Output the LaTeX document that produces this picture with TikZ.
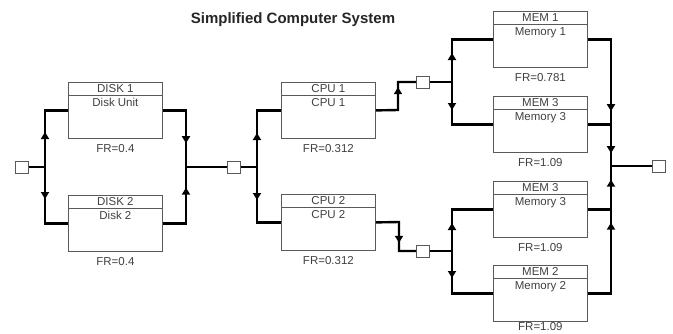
\documentclass[tikz,border=0pt]{standalone}
\usepackage{fontspec}
\setmainfont{Liberation Sans}
\usetikzlibrary{decorations.markings,arrows.meta}
\newcommand\compbox[7][11pt]{%
  \node[comp] (#2) at (#3,#4) {};
  \draw[frame] ([yshift=-13pt]#2.north west) -- ([yshift=-13pt]#2.north east);
  \node[lbl] (#2h) at ([yshift=-7pt]#2.north) {#5};
  \node[lbl] (#2b) at ([yshift=-21pt]#2.north) {#6};
  \node[lbl] (#2f) at ([yshift=-#1]#2.south) {#7};
}
\begin{document}
\begin{tikzpicture}[x=1pt,y=-1pt,
  frame/.style={draw=black!65, line width=0.8pt},
  comp/.style={frame, minimum width=94pt, minimum height=56pt, inner sep=0pt, anchor=north west},
  lbl/.style={font=\fontsize{11.5}{13}\selectfont, text=black!75, inner sep=0pt, text height=8pt, text depth=2pt},
  sq/.style={frame, fill=white, minimum width=13pt, minimum height=12pt, inner sep=0pt},
  bus/.style={line width=2.4pt, line join=miter},
  link/.style={line width=1.4pt},
  arr/.style={postaction={decorate,decoration={markings,mark=at position #1 with {\arrow{Triangle[length=7pt,width=8pt]}}}}}
]
\useasboundingbox (0,0) rectangle (673,333);

\node[font=\fontsize{15}{18}\selectfont\bfseries, text=black!85] (title) at (293,20) {Simplified Computer System};

% components
\compbox{d1}{68}{82}{DISK 1}{Disk Unit}{FR=0.4}
\compbox{d2}{68}{195}{DISK 2}{Disk 2}{FR=0.4}
\compbox{c1}{281}{82}{CPU 1}{CPU 1}{FR=0.312}
\compbox{c2}{281}{194}{CPU 2}{CPU 2}{FR=0.312}
\compbox{m1}{493}{11}{MEM 1}{Memory 1}{FR=0.781}
\compbox{m3a}{493}{96}{MEM 3}{Memory 3}{FR=1.09}
\compbox{m3b}{493}{181}{MEM 3}{Memory 3}{FR=1.09}
\compbox[5.5pt]{m2}{493}{265}{MEM 2}{Memory 2}{FR=1.09}

% junction squares
\node[sq] (s0) at (22,167) {};
\node[sq] (s1) at (234,167) {};
\node[sq] (s2) at (423,82) {};
\node[sq] (s3) at (423,251) {};
\node[sq] (s4) at (659,166) {};

% junction points
\coordinate (jL) at (45,167);
\coordinate (jR) at (186,167);
\coordinate (jC) at (257,167);
\coordinate (jM1) at (452,82);
\coordinate (jM2) at (452,251);
\coordinate (jO) at (611,166);
\coordinate (k1) at (398,110);
\coordinate (k2) at (399,222);

% disk stage
\draw[link] (s0) -- (jL);
\draw[bus,arr=35pt] (jL) |- (d1.west);
\draw[bus,arr=32pt] (jL) |- (d2.west);
\draw[bus,arr=56pt] (d1.east) -| (jR);
\draw[bus,arr=59pt] (d2.east) -| (jR);
\draw[link] (jR) -- (s1);
\draw[link] (s1) -- (jC);

% cpu stage
\draw[bus,arr=34pt] (jC) |- (c1.west);
\draw[bus,arr=33pt] (jC) |- (c2.west);
\draw[bus,arr=45pt] (c1.east) -- (k1) |- (s2.west);
\draw[bus,arr=44pt] (c2.east) -- (k2) |- (s3.west);

% memory stage
\draw[link] (s2) -- (jM1);
\draw[link] (s3) -- (jM2);
\draw[bus,arr=29pt] (jM1) |- (m1.west);
\draw[bus,arr=28pt] (jM1) |- (m3a.west);
\draw[bus,arr=28pt] (jM2) |- (m3b.west);
\draw[bus,arr=27pt] (jM2) |- (m2.west);
\draw[bus,arr=95pt,arr=137pt] (m1.east) -| (jO);
\draw[bus,arr=137pt,arr=94pt] (m2.east) -| (jO);
\draw[bus] (m3a.east) -- (jO |- m3a.east);
\draw[bus] (m3b.east) -- (jO |- m3b.east);
\draw[link] (jO) -- (s4);
\end{tikzpicture}
\end{document}
